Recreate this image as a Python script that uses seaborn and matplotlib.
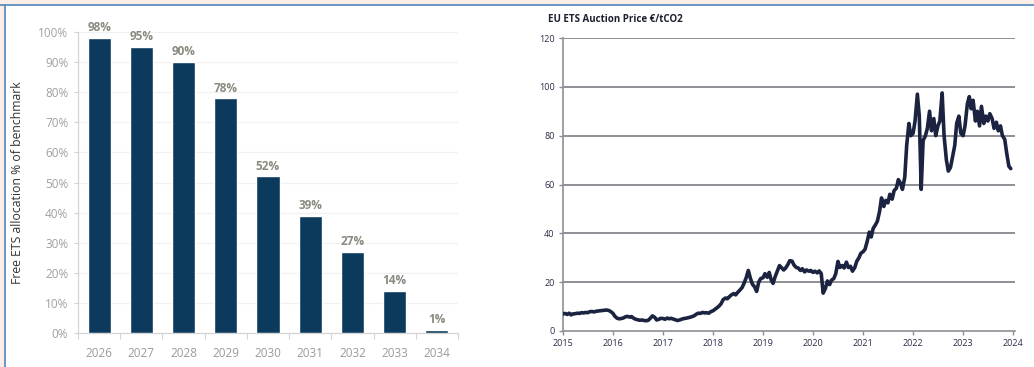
import matplotlib
matplotlib.use("Agg")
import matplotlib.pyplot as plt
import matplotlib.dates as mdates
from matplotlib.patches import Rectangle
from matplotlib.lines import Line2D
from matplotlib.ticker import FixedLocator, PercentFormatter
import numpy as np
import pandas as pd
import seaborn as sns

# ---- Free allocation phase-out ----
years = ["2026", "2027", "2028", "2029", "2030", "2031", "2032", "2033", "2034"]
free_alloc = [98, 95, 90, 78, 52, 39, 27, 14, 1]

# ---- EU ETS auction price, semi-monthly readings (EUR/tCO2) ----
price_2015 = [7.0, 7.2, 6.8, 7.3, 6.6, 7.0, 7.1, 7.3, 7.2, 7.5, 7.4, 7.6,
              7.5, 7.9, 8.0, 7.8, 8.1, 8.2, 8.3, 8.4, 8.5, 8.6, 8.4, 8.0]
price_2016 = [7.2, 6.0, 5.2, 5.0, 5.1, 5.3, 5.8, 6.0, 5.7, 5.9, 5.2, 4.8,
              4.6, 4.4, 4.5, 4.3, 4.2, 4.4, 5.3, 6.2, 5.6, 4.5, 4.8, 5.2]
price_2017 = [5.1, 4.8, 5.3, 5.0, 5.2, 4.9, 4.6, 4.3, 4.5, 4.8, 5.1, 5.2,
              5.4, 5.6, 5.9, 6.2, 6.9, 7.3, 7.2, 7.6, 7.4, 7.5, 7.3, 7.9]
price_2018 = [8.3, 8.9, 9.6, 10.3, 11.2, 12.8, 13.5, 13.2, 14.1, 14.8, 15.3, 14.8,
              15.9, 16.7, 17.8, 19.5, 22.0, 24.8, 21.5, 19.2, 18.0, 16.2, 20.1, 21.5]
price_2019 = [21.8, 23.5, 22.0, 24.0, 21.0, 19.5, 22.5, 24.5, 26.8, 26.0, 25.0, 25.8,
              27.2, 28.8, 28.6, 27.0, 26.0, 25.8, 24.8, 25.5, 24.2, 25.0, 24.5, 24.8]
price_2020 = [24.0, 24.5, 23.8, 24.6, 23.5, 15.5, 17.5, 20.5, 19.0, 20.8, 21.5, 23.5,
              28.5, 26.0, 26.8, 25.8, 28.2, 26.0, 26.5, 24.5, 26.0, 28.5, 30.0, 31.8]
price_2021 = [32.5, 33.5, 37.0, 40.5, 38.5, 42.0, 43.5, 45.0, 49.0, 54.5, 51.0, 53.5,
              52.5, 56.0, 54.0, 57.5, 58.5, 62.0, 60.5, 58.0, 63.0, 76.0, 85.0, 80.0]
price_2022 = [81.0, 86.0, 97.0, 88.0, 58.0, 78.0, 80.0, 83.0, 90.0, 82.0, 87.0, 80.0,
              84.0, 86.0, 97.5, 80.0, 70.0, 65.5, 67.0, 71.0, 76.0, 85.0, 88.0, 81.0]
price_2023 = [80.0, 84.0, 93.0, 96.0, 91.0, 94.5, 86.0, 90.0, 84.0, 92.0, 85.0, 88.0,
              86.0, 89.0, 87.0, 83.0, 85.5, 82.0, 84.0, 80.0, 78.5, 73.0, 67.5, 66.5]

price_values = (price_2015 + price_2016 + price_2017 + price_2018 + price_2019
                + price_2020 + price_2021 + price_2022 + price_2023)
price_dates = pd.date_range("2015-01-01", periods=len(price_values), freq="SMS")

alloc_df = pd.DataFrame({"year": years, "share": free_alloc})
price_df = pd.DataFrame({"date": price_dates, "price": price_values})

sns.set_theme(style="white")
plt.rcParams["font.family"] = ["Open Sans", "DejaVu Sans"]

W, H = 1034, 367
fig = plt.figure(figsize=(W / 100, H / 100), dpi=100)
fig.patch.set_facecolor("white")

# page frame: tinted margin with a blue rule along top and left
peach = "#fbeee6"
fig.patches.append(Rectangle((0, 1 - 4 / H), 1, 4 / H, transform=fig.transFigure,
                             facecolor=peach, edgecolor="none", zorder=0))
fig.patches.append(Rectangle((0, 0), 4 / W, 1, transform=fig.transFigure,
                             facecolor=peach, edgecolor="none", zorder=0))
fig.lines.append(Line2D([0, 1], [1 - 4.5 / H] * 2, transform=fig.transFigure,
                        color="#5b8fc0", lw=1.3))
fig.lines.append(Line2D([5 / W] * 2, [0, 1 - 4.5 / H], transform=fig.transFigure,
                        color="#5b8fc0", lw=1.3))

# ================= left panel: bars =================
ax1 = fig.add_axes([78 / W, (H - 333) / H, (458 - 78) / W, (333 - 32) / H])
ax1.set_facecolor("none")
bar_color = "#0b3a5c"
sns.barplot(data=alloc_df, x="year", y="share", color=bar_color, width=0.55,
            saturation=1, ax=ax1, zorder=3)
ax1.set_ylim(0, 100)
ax1.set_xlim(-0.5, len(years) - 0.5)
ax1.yaxis.set_major_locator(FixedLocator(np.arange(0, 101, 10)))
ax1.yaxis.set_major_formatter(PercentFormatter(decimals=0))
for yv in np.arange(10, 101, 10):
    ax1.axhline(yv, color="#f1f1f1", lw=0.9, zorder=1)

for i, v in enumerate(free_alloc):
    ax1.text(i, v + 1.2, f"{v}%", ha="center", va="bottom", fontsize=8.5,
             fontweight="bold", color="#8a8a80", clip_on=False, zorder=4)

for side in ["top", "right"]:
    ax1.spines[side].set_visible(False)
for side in ["left", "bottom"]:
    ax1.spines[side].set_color("#d4d4d4")
    ax1.spines[side].set_linewidth(0.9)

ax1.set_xticks(np.arange(-0.5, len(years), 1.0), minor=True)
ax1.tick_params(axis="x", which="major", length=0, pad=10, labelsize=8.5,
                labelcolor="#9a9a9a")
ax1.tick_params(axis="x", which="minor", length=4, width=0.8, color="#d4d4d4",
                direction="out", bottom=True)
ax1.tick_params(axis="y", which="major", length=3, width=0.8, color="#d4d4d4",
                left=True, labelsize=8.5, labelcolor="#a0a0a0", pad=4)
ax1.set_xlabel("")
ax1.set_ylabel("Free ETS allocation % of benchmark", fontsize=8.8,
               color="#333333", labelpad=10)

# ================= right panel: price line =================
ax2 = fig.add_axes([563 / W, (H - 331) / H, (1015 - 563) / W, (331 - 38) / H])
ax2.set_facecolor("none")
sns.lineplot(data=price_df, x="date", y="price", color="#1b2340", lw=2.6,
             ax=ax2, zorder=3)
ax2.set_ylim(0, 120)
ax2.set_xlim(pd.Timestamp("2015-01-01"), pd.Timestamp("2024-01-15"))
ax2.yaxis.set_major_locator(FixedLocator(np.arange(0, 121, 20)))
for yv in np.arange(20, 121, 20):
    ax2.axhline(yv, color="#8e8e96", lw=1.4, zorder=1)

ax2.xaxis.set_major_locator(mdates.YearLocator())
ax2.xaxis.set_major_formatter(mdates.DateFormatter("%Y"))

for side in ["top", "right"]:
    ax2.spines[side].set_visible(False)
for side in ["left", "bottom"]:
    ax2.spines[side].set_color("#8e8e96")
    ax2.spines[side].set_linewidth(1.2)

ax2.tick_params(axis="x", length=3, width=1, color="#8e8e96", bottom=True,
                labelsize=6.5, labelcolor="#2a2e48", pad=3)
ax2.tick_params(axis="y", length=3, width=1, color="#8e8e96", left=True,
                labelsize=6.5, labelcolor="#2a2e48", pad=3)
ax2.set_xlabel("")
ax2.set_ylabel("")

fig.text(548 / W, 1 - 19 / H, "EU ETS Auction Price €/tCO2", fontsize=7,
         fontweight="bold", color="#1c2030", ha="left", va="center")

fig.savefig("out.png", dpi=100)
